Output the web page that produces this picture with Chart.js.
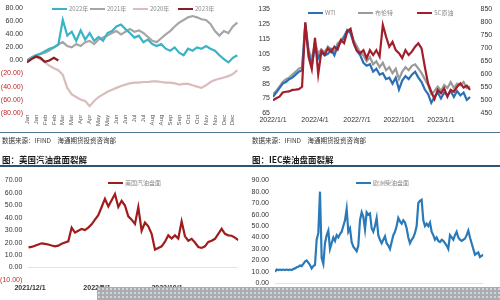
<!DOCTYPE html>
<html><head><meta charset="utf-8">
<script src="https://cdn.jsdelivr.net/npm/chart.js@4.4.0/dist/chart.umd.min.js"></script>
<style>
html,body{margin:0;padding:0;background:#fff;width:500px;height:300px;overflow:hidden;font-family:"Noto Sans CJK SC","Noto Sans",sans-serif;}
canvas{position:absolute;}
.lg{position:absolute;font-size:6px;color:#8a8a8a;white-space:nowrap;line-height:8px;}
.lg i{display:inline-block;width:15px;height:2px;vertical-align:middle;margin-right:2px;margin-top:-1px;}
.src{position:absolute;font-size:6.5px;color:#333;white-space:nowrap;line-height:8px;}
.ttl{position:absolute;font-size:8.5px;font-weight:bold;color:#1a1a1a;white-space:nowrap;line-height:10px;}
.hl{position:absolute;}
.band{position:absolute;left:97px;top:287px;width:403px;height:13px;background-color:#a9adb2;
background-image:radial-gradient(circle,#e2e3e5 0.6px,transparent 1px);background-size:4px 4px;}
</style></head>
<body>
<canvas id="c1" width="250" height="130" style="left:0;top:0;width:250px;height:130px"></canvas>
<canvas id="c2" width="250" height="130" style="left:250px;top:0;width:250px;height:130px"></canvas>
<canvas id="c3" width="250" height="130" style="left:0;top:170px;width:250px;height:130px"></canvas>
<canvas id="c4" width="250" height="130" style="left:250px;top:170px;width:250px;height:130px"></canvas>

<div class="lg" style="left:52px;top:5px"><i style="background:#3ab3c6"></i>2022年</div>
<div class="lg" style="left:90px;top:5px"><i style="background:#a6a6a6"></i>2021年</div>
<div class="lg" style="left:133px;top:5px"><i style="background:#dbbcbc"></i>2020年</div>
<div class="lg" style="left:178px;top:5px"><i style="background:#8b1c24"></i>2023年</div>

<div class="lg" style="left:308px;top:9px"><i style="background:#2b70b4"></i>WTI</div>
<div class="lg" style="left:358px;top:9px"><i style="background:#9a9a9a"></i>布伦特</div>
<div class="lg" style="left:417px;top:9px"><i style="background:#a31d2a"></i>SC原油</div>

<div class="lg" style="left:108px;top:179px"><i style="background:#a01c1c"></i>美国汽油盘面</div>
<div class="lg" style="left:356px;top:179px"><i style="background:#2a7ab9"></i>欧洲柴油盘面</div>

<div class="hl" style="left:0;top:132px;width:500px;height:1px;background:#4f7590"></div>
<div class="src" style="left:2px;top:136px">数据来源：IFIND　海通期货投资咨询部</div>
<div class="src" style="left:252px;top:136px">数据来源：IFIND　海通期货投资咨询部</div>
<div class="ttl" style="left:2px;top:154px">图：美国汽油盘面裂解</div>
<div class="ttl" style="left:252px;top:154px">图：IEC柴油盘面裂解</div>
<div class="hl" style="left:0;top:165px;width:500px;height:2px;background:#2f5573"></div>
<div class="band"></div>

<script>
// ---------- top-left: seasonal chart ----------
const seasonMonths = ['Jan','Jan','Feb','Feb','Mar','Mar','Apr','Apr','May','May','Jun','Jun','Jul','Jul','Aug','Aug','Sep','Sep','Oct','Oct','Nov','Nov','Dec','Dec'];
const seasonTickPos = [0,1,2,3,4,5,6,7,8,9,10,11,12,13,14,15,16,17,18,19,20,21,22,23];
const seasonX = [0,0.5,1,1.5,2,2.5,3,3.5,4,4.5,5,5.5,6,6.5,7,7.5,8,8.5,9,9.5,10,10.5,11,11.5,12,12.5,13,13.5,14,14.5,15,15.5,16,16.5,17,17.5,18,18.5,19,19.5,20,20.5,21,21.5,22,22.5,23,23.5];
const y2022 = [0,4,8,10,14,18,20,24, 62,38,44,30,46,32,42,30, 36,30,42,45,52,55,48,42, 35,38,28,32,25,22,25,18, 15,20,12,8,18,15,20,18, 22,18,15,8,2,-3,4,8];
const y2021 = [0,5,8,10,12,15,20,25, 28,22,20,25,22,28,30,25, 32,35,38,42,45,40,44,48, 44,46,42,36,30,28,34,40, 45,52,58,62,66,68,66,63, 62,56,45,38,45,42,52,58];
const y2020 = [0,3,5,2,-3,-8,-12,-15, -22,-42,-52,-56,-60,-62,-70,-62, -56,-52,-48,-45,-42,-39,-37,-35, -34,-34,-33,-33,-32,-32,-33,-34, -34,-35,-37,-36,-36,-38,-40,-42, -38,-33,-30,-28,-26,-24,-21,-15];
const y2023 = [-3,2,6,4,-2,0,4,0];

// ---------- top-right: crude prices (weekly) ----------
const crudeTickPos = [0,13,26,39,52];
const crudeTickLabels = ['2022/1/1','2022/4/1','2022/7/1','2022/10/1','2023/1/1'];
const wti = [76,79,82,85,86,88,89,91,93,94, 124,106,97,110,102,106,104,105,108,104, 110,113,116,121,119,112,107,104,99,97, 98,93,95,91,92,88,89,85,89,81, 87,90,88,91,93,89,86,81,78,72, 76,79,75,79,77,80,76,80,77,79, 74,76];
const brent = [78,80,83,86,88,89,91,93,95,96, 126,108,101,113,105,108,106,110,108,106, 112,114,117,121,120,114,110,106,104,100, 103,98,100,96,99,94,96,92,95,88, 93,96,94,97,98,95,92,88,84,78, 80,83,80,84,82,86,82,85,84,86, 82,83];
const sc = [500,508,514,530,533,534,540,541,543,552, 800,668,620,740,600,690,675,700,685,706, 695,732,720,765,775,720,690,681,693,662, 693,674,693,668,790,745,706,725,693,681, 662,693,674,687,706,719,700,629,565,533, 505,540,527,546,514,540,533,552,565,549, 556,540];

// ---------- bottom: crack spreads ----------
const crackTickLabels = ['2021/12/1','2022/5/1','2022/10/1'];
const gasTickPos = [0.5,20.6,41.6];
const gasoline = [16.2,16.5,17.5,18.5,19.4,19,18.5,17.7,17,17.5, 19,20,21,32,28,29.5,31,30,32,34.6, 38.4,42,48.5,55,49,54,59,48.5,53.5,49.7, 41,38.4,35,48.5,29.5,36,33,27,14.4,15.7, 17,20.7,25.8,23.2,25.8,23.2,37,25,21.5,23, 20,16.5,15.7,17,20.5,21.5,23,27,31,27, 25.8,25.5,24,22];
const dslTickPos = [1,41,83];
const diesel = [10,12,11.5,12,11.5,12,11.5,12,11.5,12, 11.5,12.5,13,14,14.5,15.5,15,17,19,20, 18,16,13,15,16,38,44,80,22,17, 35,42,46,30,35,40,37,42,40,43, 45,50,55,65,45,48,36,32,30,28, 33,55,62,58,47,62,60,61,48,45, 50,57,42,38,35,38,41,35,33,30, 36,42,45,50,57,54,52,55,53,48, 40,35,38,40,44,50,70,72,73,55, 50,52,50,53,45,42,38,40,37,36, 38,37,35,33,30,42,40,38,42,45, 40,38,37,38,39,42,46,40,35,30, 25,26,27,23,24,25];

Chart.defaults.font.family = '"Liberation Sans", Arial, sans-serif';
Chart.defaults.font.size = 7;
Chart.defaults.color = '#333';

const fmt2 = v => v < 0 ? '(' + Math.abs(v).toFixed(2) + ')' : v.toFixed(2);
const negColor = c => (c.tick && c.tick.value < 0) ? '#c62828' : '#333';
const idx = arr => arr.map((_, i) => i);
const pair = (xs, ys) => ys.map((y, i) => ({x: xs[i], y: y}));
const line = (label, data, color, extra) => Object.assign({label, data, borderColor: color, backgroundColor: color, borderWidth: 2.2, pointRadius: 0, tension: 0, fill: false}, extra || {});
const noGrid = {display: false, drawTicks: false};
const base = {animation: false, responsive: false, maintainAspectRatio: false, events: [],
  plugins: {legend: {display: false}, tooltip: {enabled: false}}};
const setTicks = pos => s => { s.ticks = pos.map(v => ({value: v})); };

new Chart(document.getElementById('c1'), {
  type: 'line',
  data: {datasets: [
    line('2023年', pair(seasonX, y2023), '#8b1c24'),
    line('2022年', pair(seasonX, y2022), '#3ab3c6'),
    line('2021年', pair(seasonX, y2021), '#a6a6a6'),
    line('2020年', pair(seasonX, y2020), '#dbbcbc')
  ]},
  options: Object.assign({}, base, {
    layout: {padding: {top: 6, right: 10, left: 0, bottom: 0}},
    scales: {
      x: {type: 'linear', min: 0, max: 23.8, afterBuildTicks: setTicks(seasonTickPos),
          ticks: {callback: (v, i) => seasonMonths[i], minRotation: 90, maxRotation: 90, autoSkip: false, font: {size: 6}, color: '#555', padding: 2},
          grid: noGrid, border: {display: false}, afterFit: s => { s.height = 17.3; }},
      y: {min: -80, max: 80, ticks: {stepSize: 20, callback: fmt2, color: negColor, padding: 4},
          grid: noGrid, border: {display: false}, afterFit: s => { s.width = 27; }}
    }
  })
});

new Chart(document.getElementById('c2'), {
  type: 'line',
  data: {labels: idx(wti), datasets: [
    line('SC原油', sc, '#a31d2a', {yAxisID: 'y2'}),
    line('WTI', wti, '#2b70b4'),
    line('布伦特', brent, '#9a9a9a')
  ]},
  options: Object.assign({}, base, {
    layout: {padding: {top: 9.3, right: 0, left: 0, bottom: 0}},
    scales: {
      x: {type: 'linear', min: 0, max: 63, afterBuildTicks: setTicks(crudeTickPos),
          ticks: {callback: (v, i) => crudeTickLabels[i], maxRotation: 0, autoSkip: false, padding: 3},
          grid: noGrid, border: {display: false}, afterFit: s => { s.height = 16.7; }},
      y: {position: 'left', min: 65, max: 135, ticks: {stepSize: 10, padding: 3},
          grid: noGrid, border: {display: false}, afterFit: s => { s.width = 23; }},
      y2: {position: 'right', min: 450, max: 850, ticks: {stepSize: 50, padding: 4},
          grid: noGrid, border: {display: false}, afterFit: s => { s.width = 23.5; }}
    }
  })
});

const zeroGrid = {drawTicks: false, color: c => (c.tick && c.tick.value === 0) ? '#e3e3e3' : 'rgba(0,0,0,0)', lineWidth: 1};

new Chart(document.getElementById('c3'), {
  type: 'line',
  data: {labels: idx(gasoline), datasets: [line('美国汽油盘面', gasoline, '#a01c1c')]},
  options: Object.assign({}, base, {
    layout: {padding: {top: 5, right: 11.7, left: 0, bottom: 0}},
    scales: {
      x: {type: 'linear', min: 0, max: 63, afterBuildTicks: setTicks(gasTickPos),
          ticks: {callback: (v, i) => crackTickLabels[i], maxRotation: 0, autoSkip: false, padding: 4, font: {size: 7, weight: 'bold'}},
          grid: noGrid, border: {display: false}, afterFit: s => { s.height = 20; }},
      y: {min: -10, max: 70, ticks: {stepSize: 10, callback: fmt2, color: negColor, padding: 6},
          grid: zeroGrid, border: {display: false}, afterFit: s => { s.width = 28.3; }}
    }
  })
});

new Chart(document.getElementById('c4'), {
  type: 'line',
  data: {labels: idx(diesel), datasets: [line('欧洲柴油盘面', diesel, '#2a7ab9')]},
  options: Object.assign({}, base, {
    layout: {padding: {top: 5, right: 16.7, left: 0, bottom: 0}},
    scales: {
      x: {type: 'linear', min: 0, max: 125, afterBuildTicks: setTicks(dslTickPos),
          ticks: {callback: (v, i) => crackTickLabels[i], maxRotation: 0, autoSkip: false, padding: 3},
          grid: noGrid, border: {display: false}, afterFit: s => { s.height = 16.7; }},
      y: {min: 0, max: 90, ticks: {stepSize: 10, callback: fmt2, padding: 6},
          grid: zeroGrid, border: {display: false}, afterFit: s => { s.width = 25; }}
    }
  })
});
</script>
</body></html>
